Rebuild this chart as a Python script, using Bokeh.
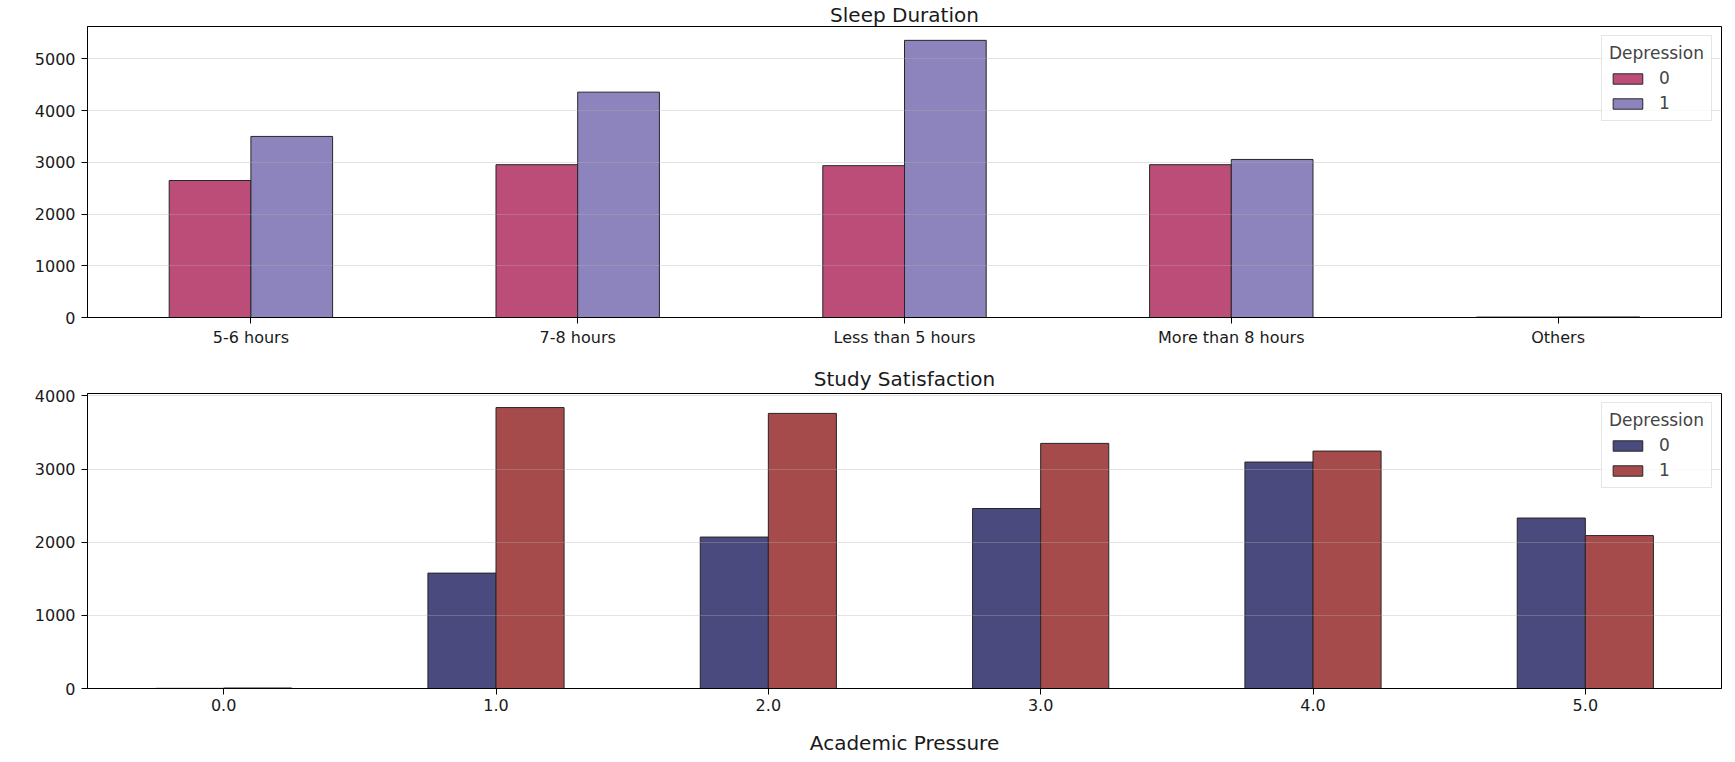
from bokeh.plotting import figure
from bokeh.models import ColumnDataSource, FactorRange, Range1d, SingleIntervalTicker
from bokeh.transform import dodge
from bokeh.layouts import column
from bokeh.embed import file_html
from bokeh.resources import INLINE

# ---- data ----
sleep_cats = ["5-6 hours", "7-8 hours", "Less than 5 hours", "More than 8 hours", "Others"]
sleep_dep0 = [2648, 2954, 2935, 2954, 8]
sleep_dep1 = [3500, 4356, 5357, 3055, 10]

pressure_cats = ["0.0", "1.0", "2.0", "3.0", "4.0", "5.0"]
pressure_dep0 = [2, 1577, 2070, 2460, 3095, 2330]
pressure_dep1 = [7, 3840, 3760, 3350, 3245, 2090]

legend_title = "Depression"
series_labels = ["0", "1"]

FONT = "DejaVu Sans"


def make_plot(cats, d0, d1, colors, title, xlabel, width, height, borders, title_standoff):
    src = ColumnDataSource(dict(cat=cats, d0=d0, d1=d1))
    ymax = max(max(d0), max(d1)) * 1.05
    p = figure(x_range=FactorRange(factors=cats, range_padding=0),
               y_range=Range1d(0, ymax),
               width=width, height=height,
               output_backend="svg", toolbar_location=None,
               min_border_left=borders[0], min_border_right=borders[1],
               min_border_top=borders[2], min_border_bottom=borders[3])
    p.vbar(x=dodge("cat", -0.125, range=p.x_range), top="d0", width=0.25, source=src,
           fill_color=colors[0], line_color="#262626", line_width=1,
           legend_label=series_labels[0])
    p.vbar(x=dodge("cat", 0.125, range=p.x_range), top="d1", width=0.25, source=src,
           fill_color=colors[1], line_color="#262626", line_width=1,
           legend_label=series_labels[1])

    p.title.text = title
    p.title.align = "center"
    p.title.text_font = FONT
    p.title.text_font_size = "20px"
    p.title.text_font_style = "normal"
    p.title.text_color = "#1a1a1a"
    p.title.standoff = title_standoff

    p.outline_line_color = "black"
    p.outline_line_alpha = 1
    p.outline_line_width = 1
    p.background_fill_color = "white"
    p.border_fill_color = "white"

    p.xgrid.grid_line_color = None
    p.ygrid.grid_line_color = "#b0b0b0"
    p.ygrid.grid_line_alpha = 0.35
    p.ygrid.level = "annotation"
    p.yaxis.ticker = SingleIntervalTicker(interval=1000)

    for ax in (p.xaxis, p.yaxis):
        ax.axis_line_color = "black"
        ax.major_tick_line_color = "black"
        ax.major_tick_out = 6
        ax.major_tick_in = 0
        ax.minor_tick_line_color = None
        ax.major_label_text_font = FONT
        ax.major_label_text_font_size = "16px"
        ax.major_label_text_color = "#1a1a1a"
    p.xaxis.major_label_standoff = 4
    p.yaxis.major_label_standoff = 6
    p.yaxis.formatter.use_scientific = False

    if xlabel:
        p.xaxis.axis_label = xlabel
        p.xaxis.axis_label_text_font = FONT
        p.xaxis.axis_label_text_font_size = "20px"
        p.xaxis.axis_label_text_font_style = "normal"
        p.xaxis.axis_label_text_color = "#1a1a1a"
        p.xaxis.axis_label_standoff = 17

    lg = p.legend[0]
    lg.title = legend_title
    lg.location = "top_right"
    lg.margin = 9
    lg.padding = 7
    lg.spacing = 5
    lg.title_standoff = 5
    lg.title_text_font = FONT
    lg.title_text_font_size = "17px"
    lg.title_text_font_style = "normal"
    lg.label_text_font = FONT
    lg.label_text_font_size = "17px"
    lg.glyph_width = 37
    lg.glyph_height = 13
    lg.label_standoff = 13
    lg.border_line_color = "#cccccc"
    lg.background_fill_alpha = 0.8
    return p


p1 = make_plot(sleep_cats, sleep_dep0, sleep_dep1, ["#BC4D79", "#8E84BD"],
               "Sleep Duration", None, 1730, 352, (87, 9, 10, 35), 0)
p2 = make_plot(pressure_cats, pressure_dep0, pressure_dep1, ["#4A4A7F", "#A64B4C"],
               "Study Satisfaction", "Academic Pressure", 1730, 409, (87, 9, 41, 73), 6)

layout = column(p1, p2, spacing=0)
open("out.html", "w").write(file_html(layout, INLINE))
